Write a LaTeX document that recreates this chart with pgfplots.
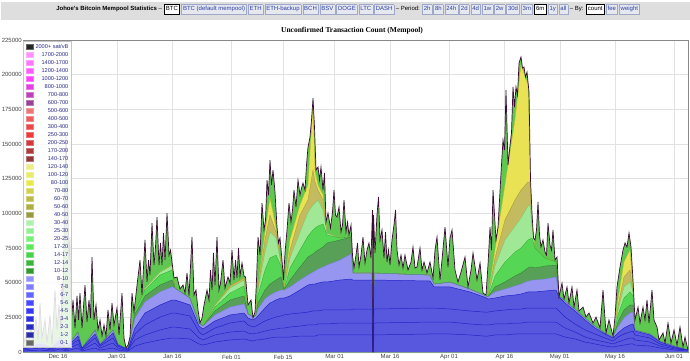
\documentclass[border=0pt]{standalone}
\usepackage{pgfplots}
\pgfplotsset{compat=1.18}
\usepackage{pgfplotstable}
\usepackage{fontspec}
\setmainfont{Liberation Sans}
\newfontfamily\titlefont{Liberation Serif}

\definecolor{headbg}{HTML}{DEDEDE}
\definecolor{btnbg}{HTML}{E6E8F0}
\definecolor{btnborder}{HTML}{A0A8C8}
\definecolor{btntext}{HTML}{2B3FA0}
\definecolor{legtext}{HTML}{2A2A8C}
\definecolor{tickgray}{HTML}{444444}
\definecolor{gridgray}{HTML}{E2E2E2}
\definecolor{axisgray}{HTML}{888888}

\definecolor{spikefill}{RGB}{95,200,80}
\definecolor{cY}{RGB}{233,226,85}
\definecolor{cYl}{RGB}{200,190,40}
\definecolor{cOL}{RGB}{196,186,95}
\definecolor{cOLl}{RGB}{160,150,60}
\definecolor{cLG}{RGB}{160,232,150}
\definecolor{cLGl}{RGB}{110,200,110}
\definecolor{cG}{RGB}{85,215,85}
\definecolor{cGl}{RGB}{40,170,40}
\definecolor{cDG}{RGB}{88,160,88}
\definecolor{cDGl}{RGB}{50,120,50}
\definecolor{cLB}{RGB}{150,150,240}
\definecolor{cLBl}{RGB}{125,125,235}
\definecolor{cB}{RGB}{88,88,222}
\definecolor{cBl}{RGB}{35,35,200}
\definecolor{cT}{RGB}{60,12,55}

\definecolor{lgA}{HTML}{000000}
\definecolor{lgB}{HTML}{FF80FF}
\definecolor{lgC}{HTML}{FF60FF}
\definecolor{lgD}{HTML}{FF40FF}
\definecolor{lgE}{HTML}{FF20FF}
\definecolor{lgF}{HTML}{DD22DD}
\definecolor{lgG}{HTML}{B022B0}
\definecolor{lgH}{HTML}{882288}
\definecolor{lgI}{HTML}{E86060}
\definecolor{lgJ}{HTML}{E84040}
\definecolor{lgK}{HTML}{E82828}
\definecolor{lgL}{HTML}{E81818}
\definecolor{lgM}{HTML}{C81818}
\definecolor{lgN}{HTML}{A01818}
\definecolor{lgO}{HTML}{801414}
\definecolor{lgP}{HTML}{EAEA70}
\definecolor{lgQ}{HTML}{E8E850}
\definecolor{lgR}{HTML}{E4E430}
\definecolor{lgS}{HTML}{CACA30}
\definecolor{lgT}{HTML}{B0B028}
\definecolor{lgU}{HTML}{A0A020}
\definecolor{lgV}{HTML}{888820}
\definecolor{lgW}{HTML}{A0EEA0}
\definecolor{lgX}{HTML}{80EE80}
\definecolor{lgY}{HTML}{60EE60}
\definecolor{lgZ}{HTML}{40E640}
\definecolor{lga}{HTML}{28CC28}
\definecolor{lgb}{HTML}{18AA18}
\definecolor{lgc}{HTML}{0C880C}
\definecolor{lgd}{HTML}{8080FF}
\definecolor{lge}{HTML}{6868FF}
\definecolor{lgf}{HTML}{4848FF}
\definecolor{lgg}{HTML}{2828FF}
\definecolor{lgh}{HTML}{1414F0}
\definecolor{lgi}{HTML}{0A0AD8}
\definecolor{lgj}{HTML}{0808B8}
\definecolor{lgk}{HTML}{0A0A98}
\definecolor{lgl}{HTML}{505050}

\pgfplotstableread{
d B1 B2 B3 B LB DG G LG OL Y
-9.49 700 1400 2200 2900 3600 3600 3600 3600 3600 3600
-4.88 1400 2900 4300 5800 7200 7200 7200 7200 7200 7200
-1.63 700 1400 2200 2900 2900 2900 2900 2900 2900 2900
0.54 2200 4300 6500 8700 10800 10800 10800 10800 10800 10800
2.17 700 1400 2200 2900 2900 2900 2900 2900 2900 2900
5.42 2900 5800 8700 11500 14400 14400 14400 14400 14400 14400
6.51 700 1400 2200 2900 2900 2900 2900 2900 2900 2900
10.03 2900 6500 10100 13000 15900 15900 15900 15900 15900 15900
11.39 1400 2900 4300 5000 5800 5800 5800 5800 5800 5800
14.91 2900 6500 10100 13700 15900 15900 15900 15900 15900 15900
16.26 1400 2900 4300 5000 5800 5800 5800 5800 5800 5800
18.16 700 1400 2200 2900 2900 2900 2900 2900 2900 2900
18.98 700 1400 1400 2200 2200 2200 2200 2200 2200 2200
20.87 4300 8700 13000 17300 24500 27400 30300 30300 30300 30300
23.58 6500 12300 19500 28100 36100 40400 44700 46100 46100 46100
27.65 8700 15900 25200 33900 43300 48300 55500 57700 57700 57700
30.90 10100 18000 28100 37500 46900 51900 59100 62700 62700 62700
31.72 10100 18000 28100 37500 46100 46100 46100 46100 46100 46100
35.78 9400 16600 26000 33900 38900 38900 38900 38900 38900 38900
38.22 5800 10100 14400 18700 20900 20900 20900 20900 20900 20900
39.31 5000 8700 12300 16600 18700 18700 18700 18700 18700 18700
42.56 7200 12300 17300 22400 26700 29600 32400 33900 33900 33900
46.63 8700 14400 20900 26700 32400 37500 42500 46100 47600 47600
50.42 9400 15100 22400 28100 34600 40400 47600 51900 53400 53400
51.51 8700 13700 19500 24500 27400 27400 27400 27400 27400 27400
52.86 7900 13000 18000 23100 25200 25200 25200 25200 25200 25200
53.67 8700 13700 18700 24500 26700 26700 26700 26700 26700 26700
54.22 8700 13700 19500 26000 31000 35300 41100 44700 46100 46900
56.11 9400 15100 22400 31700 38200 44700 59100 72100 80800 86500
57.47 10100 15900 23800 35300 41100 49000 67800 86500 98800 111000
59.10 10800 16600 25200 37500 43300 51900 69900 82200 86500 89400
60.45 10800 17300 26000 38900 44700 54100 62000 64200 64200 64200
61.26 10800 17300 26700 38900 44700 44700 44700 44700 44700 44700
62.89 10800 18000 27400 40400 46900 51900 60600 67800 73500 80800
65.60 11500 18700 28100 44700 51900 61300 73500 86500 98800 106000
67.77 11500 19500 28800 48300 55500 68500 83600 100900 109600 120400
69.13 11500 19500 29600 49000 57700 70700 88000 106000 131200 178100
69.67 11500 19500 29600 49000 58400 72100 89400 107400 122600 129800
70.48 12300 20200 29600 49700 59800 73500 90800 109600 116800 120400
71.84 12300 20200 30300 50500 61300 75700 92300 102400 109600 113200
72.92 12300 20200 30300 50500 62700 78600 84400 85800 85800 85800
76.45 12300 20900 30300 51900 66300 80800 82200 82200 82200 82200
79.43 12300 20900 30300 52600 70700 82900 82900 82900 82900 82900
79.97 12300 20900 31000 51900 57000 57000 57000 57000 57000 57000
85.12 12300 20900 31000 51900 57000 57000 57000 57000 57000 57000
85.39 0 0 0 0 0 0 0 0 0 0
85.66 12300 20900 31000 51900 57000 57000 57000 57000 57000 57000
100.84 13000 21600 31700 51200 55500 55500 55500 55500 55500 55500
101.93 13000 21600 31700 46900 49000 49000 49000 49000 49000 49000
106.26 13000 21600 31000 46900 50500 50500 50500 50500 50500 50500
111.68 12300 20200 29600 43300 45400 45400 45400 45400 45400 45400
115.48 11500 19500 28800 39700 41100 41100 41100 41100 41100 41100
116.56 11500 19500 28800 38200 39700 39700 39700 39700 39700 39700
118.46 12300 20200 29600 38900 43300 46900 54800 62000 67800 73500
121.17 12300 20200 30300 40400 45400 50500 64900 80800 95200 120400
123.88 13000 20900 31000 41100 47600 54800 72100 90800 109600 167300
125.51 13000 20900 31000 41800 49000 57000 75000 96600 116800 206900
127.41 13000 21600 31700 43300 51200 60600 80800 105300 122600 192500
127.95 13000 21600 31700 43300 51200 61300 81500 106000 122600 134800
128.49 13000 21600 31700 43300 51900 61300 82200 91600 91600 91600
129.31 13000 21600 31700 43300 51900 60600 75000 75000 75000 75000
132.02 13000 21600 31700 44000 52600 62000 67800 67800 67800 67800
135.00 13000 21600 31700 44700 54100 62700 64900 64900 64900 64900
135.81 12300 20200 29600 39700 40400 40400 40400 40400 40400 40400
137.43 10800 17300 25200 35300 36800 36800 36800 36800 36800 36800
140.15 9400 14400 20200 29600 31000 31000 31000 31000 31000 31000
142.86 7200 10800 15900 23100 24500 24500 24500 24500 24500 24500
145.57 5800 8700 13000 17300 18700 18700 18700 18700 18700 18700
148.28 4300 7200 10100 13000 13700 13700 13700 13700 13700 13700
150.45 3600 5800 7900 10100 10800 10800 10800 10800 10800 10800
151.80 4300 7200 10800 13700 18000 21600 26700 30300 33200 37500
153.43 5000 8700 13000 17300 24500 30300 38900 46900 54100 64900
155.06 5800 10100 14400 19500 28100 33900 43300 50500 59100 73500
155.87 5800 10100 15100 20200 28800 33900 40400 43300 43300 43300
156.41 5000 8700 12300 15100 15900 15900 15900 15900 15900 15900
160.47 4300 7200 10100 12300 13000 13000 13000 13000 13000 13000
163.19 2900 4300 5800 7200 7900 7900 7900 7900 7900 7900
167.25 1400 2200 2900 3600 4300 4300 4300 4300 4300 4300
170.78 700 1400 1400 1400 1400 1400 1400 1400 1400 1400
}\smoothtab

\pgfplotstableread{
d v
-9.49 5000
-8.67 12300
-8.13 5800
-7.32 19500
-6.78 7200
-5.96 24500
-5.42 8700
-4.88 35300
-4.34 10100
-3.52 23100
-2.98 6500
-2.17 26700
-1.63 5000
-0.81 44700
-0.27 15900
0.27 33900
0.81 15900
1.08 49700
1.36 37500
1.76 102400
2.17 156500
2.58 120400
2.98 66300
3.25 82900
3.66 23100
4.07 37500
4.61 17300
5.15 40400
5.56 23100
5.96 42500
6.51 17300
7.32 48300
7.86 21600
8.40 37500
8.81 24500
9.22 68500
9.76 23100
10.30 33900
10.84 15900
11.39 23100
11.93 11500
12.47 19500
13.01 11500
13.55 30300
14.10 15900
14.64 35300
15.18 19500
15.99 31700
16.54 12300
17.35 42500
17.89 10100
18.43 2900
18.98 5000
19.52 10800
20.06 42500
20.60 28800
21.42 48300
22.23 66300
22.77 41100
23.58 80800
24.13 50500
24.53 66300
24.94 55500
25.48 93000
26.02 62700
26.43 75700
26.84 97300
27.38 62700
27.79 78600
28.19 62700
28.60 85800
29.01 66300
29.55 100200
30.09 69900
30.50 73500
30.90 64900
31.45 53400
32.26 54100
33.07 45400
33.89 48300
34.43 42500
34.97 57000
35.51 40400
36.32 82900
36.87 41100
37.41 44700
37.95 30300
38.49 20900
39.04 24500
39.58 33900
40.39 44700
40.93 37500
41.34 59100
41.75 44700
42.15 71400
42.56 48300
43.10 82900
43.64 44700
44.05 49700
44.73 66300
45.27 46100
46.08 54100
46.63 49700
47.17 73500
47.71 51900
48.12 66300
48.52 53400
48.93 75000
49.34 54800
49.88 64200
50.42 54800
50.83 54100
51.51 33900
52.32 37500
52.86 24500
53.40 28800
53.81 51900
54.22 82900
54.76 69900
55.30 107400
55.84 88000
56.25 95200
56.66 124000
57.06 113200
57.47 138400
57.87 120400
58.28 131200
58.82 115400
59.37 90100
59.77 78600
60.18 82200
60.72 66300
61.13 51900
61.53 71400
62.08 88000
62.62 107400
63.16 93700
63.57 102400
63.97 116800
64.52 104500
65.06 124000
65.60 113200
66.01 118200
66.41 121800
66.96 116800
67.36 134800
67.77 147800
68.31 155000
68.72 167300
69.13 183100
69.53 162200
69.94 131200
70.48 133400
70.89 124000
71.29 133400
71.84 116800
72.24 129100
72.65 93700
73.19 100200
73.87 89400
74.41 100900
74.82 116800
75.22 98800
75.63 97300
76.17 104500
76.72 86500
77.12 91600
77.53 109600
78.07 86500
78.48 93700
78.88 84400
79.43 91600
79.83 69900
80.24 60600
80.78 69900
81.19 78600
81.60 61300
82.14 69900
82.68 82900
83.22 64200
83.76 73500
84.30 78600
84.85 67800
85.25 102400
85.39 0
85.53 98800
85.93 71400
86.47 98800
86.88 111800
87.29 80800
87.83 88000
88.37 67800
88.78 86500
89.19 64900
89.59 73500
90.00 62700
90.54 80800
91.08 91600
91.49 102400
91.90 73500
92.44 62700
92.98 69900
93.52 60600
94.06 69900
94.88 59100
95.69 64900
96.23 75700
96.78 60600
97.32 61300
98.13 75000
98.67 59100
99.22 64900
100.03 57000
100.84 64900
101.66 53400
102.20 73500
102.74 82900
103.55 51900
104.09 66300
104.91 90100
105.72 61300
106.26 82200
106.81 88000
107.62 59100
108.43 50500
109.25 57700
110.33 68500
111.14 46900
111.96 59100
112.50 71400
113.58 51900
114.40 64200
115.21 42500
116.02 41100
116.56 62700
117.11 90100
117.51 73500
117.92 116800
118.33 98800
118.73 80800
119.28 90100
120.09 129100
120.63 152900
121.04 145600
121.44 188900
121.99 134800
122.53 149200
122.93 157900
123.34 191100
123.75 176600
124.15 191100
124.56 185300
124.97 208400
125.51 212700
125.92 204800
126.32 205500
126.73 198300
127.14 201900
127.68 187500
128.09 124000
128.49 100200
128.90 82200
129.31 80800
129.71 88000
130.12 108200
130.53 84400
130.93 75700
131.47 80800
132.02 72100
132.42 69900
132.83 93000
133.37 77100
133.78 73500
134.18 88000
134.73 66300
135.27 68500
135.81 39700
136.62 49700
137.17 38200
137.98 46900
138.52 35300
139.33 46900
139.88 32400
140.69 44700
141.23 29600
142.32 32400
143.13 25200
143.94 28100
145.03 20900
145.84 25200
146.93 17300
147.74 44700
148.55 13700
149.36 23100
150.45 11500
150.99 25200
151.53 46900
152.35 61300
153.16 73500
153.70 78600
154.24 75700
154.79 85800
155.33 75700
155.87 51900
156.41 23100
157.23 32400
157.77 20900
158.58 32400
159.12 23100
159.67 37500
160.21 20900
161.02 44700
161.56 23100
162.38 18000
162.92 8700
164.00 13700
164.55 6500
165.36 20900
166.17 6500
166.99 15900
167.80 5000
168.61 18000
169.43 3600
169.97 10800
170.78 1400
}\tottab

\newcommand{\btn}[1]{{\setlength{\fboxsep}{1.3pt}\setlength{\fboxrule}{0.4pt}\fcolorbox{btnborder}{btnbg}{\textcolor{btntext}{\strut #1}}}}
\newcommand{\sbtn}[1]{{\setlength{\fboxsep}{1.3pt}\setlength{\fboxrule}{0.9pt}\fcolorbox{black}{white}{\strut #1}}}
\newcommand{\bs}{\hspace{1.2pt}}

\begin{document}
\begin{tikzpicture}
\useasboundingbox (0,0) rectangle (690pt,360pt);
\fill[white] (0,0) rectangle (690pt,360pt);
\fill[headbg] (0.5pt,340pt) rectangle (689.5pt,358.5pt);
\node[inner sep=0pt, font=\fontsize{6}{7}\selectfont] at (348pt,350.5pt)
 {\textbf{Johoe's Bitcoin Mempool Statistics} -- \sbtn{BTC}\bs\btn{BTC (default mempool)}\bs\btn{ETH}\bs\btn{ETH-backup}\bs\btn{BCH}\bs\btn{BSV}\bs\btn{DOGE}\bs\btn{LTC}\bs\btn{DASH} -- Period: \btn{2h}\bs\btn{8h}\bs\btn{24h}\bs\btn{2d}\bs\btn{4d}\bs\btn{1w}\bs\btn{2w}\bs\btn{30d}\bs\btn{3m}\bs\sbtn{6m}\bs\btn{1y}\bs\btn{all} -- By: \sbtn{count}\bs\btn{fee}\bs\btn{weight}};
\node[inner sep=0pt, font=\titlefont\bfseries\fontsize{7.5}{9}\selectfont] at (352pt,329pt) {Unconfirmed Transaction Count (Mempool)};
\begin{axis}[
  at={(23pt,8pt)}, anchor=south west,
  scale only axis, width=665pt, height=312pt,
  xmin=-9.49, xmax=170.78, ymin=0, ymax=225000,
  xtick={0,16,31,47,61,75,90,106,121,136,151,167},
  xticklabels={Dec 16,Jan 01,Jan 16,Feb 01,Feb 15,Mar 01,Mar 16,Apr 01,Apr 16,May 01,May 16,Jun 01},
  ytick={0,25000,50000,75000,100000,125000,150000,175000,200000,225000},
  scaled y ticks=false,
  /pgf/number format/assume math mode=true,
  /pgf/number format/fixed,
  /pgf/number format/set thousands separator={},
  tick label style={font=\fontsize{6}{7}\selectfont, text=tickgray, inner sep=1pt},
  xticklabel style={yshift=-1.5pt},
  major tick length=0pt,
  grid=major, grid style={gridgray, line width=0.4pt},
  axis line style={axisgray, line width=0.5pt},
  legend image code/.code={\draw[#1] (0pt,-2.6pt) rectangle (6.4pt,2.6pt);},
  legend cell align=right,
  legend style={at={(0,1)}, anchor=north west, yshift=-1.3pt,
    fill=white, fill opacity=0.85, draw opacity=1, text opacity=1,
    draw=gray!45, line width=0.4pt,
    font=\fontsize{5.6}{6}\selectfont, text=legtext,
    inner xsep=3pt, inner ysep=1.5pt, row sep=1.3pt, column sep=2.5pt,
    nodes={inner sep=0pt, text height=5.2pt, text depth=1.5pt}},
]
% fills (painter order)
\addplot[fill=spikefill, draw=none, forget plot] table[x=d,y=v] {\tottab} \closedcycle;
\addplot[fill=cY, draw=none, forget plot] table[x=d,y=Y] {\smoothtab} \closedcycle;
\addplot[fill=cOL, draw=none, forget plot] table[x=d,y=OL] {\smoothtab} \closedcycle;
\addplot[fill=cLG, draw=none, forget plot] table[x=d,y=LG] {\smoothtab} \closedcycle;
\addplot[fill=cG, draw=none, forget plot] table[x=d,y=G] {\smoothtab} \closedcycle;
\addplot[fill=cDG, draw=none, forget plot] table[x=d,y=DG] {\smoothtab} \closedcycle;
\addplot[fill=cLB, draw=none, forget plot] table[x=d,y=LB] {\smoothtab} \closedcycle;
\addplot[fill=cB, draw=none, forget plot] table[x=d,y=B] {\smoothtab} \closedcycle;
% boundary lines
\addplot[cYl, line width=0.3pt, forget plot] table[x=d,y=Y] {\smoothtab};
\addplot[cOLl, line width=0.3pt, forget plot] table[x=d,y=OL] {\smoothtab};
\addplot[cLGl, line width=0.3pt, forget plot] table[x=d,y=LG] {\smoothtab};
\addplot[cGl, line width=0.3pt, forget plot] table[x=d,y=G] {\smoothtab};
\addplot[cDGl, line width=0.3pt, forget plot] table[x=d,y=DG] {\smoothtab};
\addplot[cLBl, line width=0.3pt, forget plot] table[x=d,y=LB] {\smoothtab};
\addplot[cBl, line width=0.5pt, forget plot] table[x=d,y=B] {\smoothtab};
\addplot[cBl, line width=0.5pt, forget plot] table[x=d,y=B3] {\smoothtab};
\addplot[cBl, line width=0.5pt, forget plot] table[x=d,y=B2] {\smoothtab};
\addplot[cBl, line width=0.5pt, forget plot] table[x=d,y=B1] {\smoothtab};
\addplot[cT, line width=0.7pt, forget plot] table[x=d,y=v] {\tottab};
% legend
\addlegendimage{fill=lgA,draw=lgA!60!white}\addlegendentry{2000+ sat/vB}
\addlegendimage{fill=lgB,draw=lgB!60!white}\addlegendentry{1700-2000}
\addlegendimage{fill=lgC,draw=lgC!60!white}\addlegendentry{1400-1700}
\addlegendimage{fill=lgD,draw=lgD!60!white}\addlegendentry{1200-1400}
\addlegendimage{fill=lgE,draw=lgE!60!white}\addlegendentry{1000-1200}
\addlegendimage{fill=lgF,draw=lgF!60!white}\addlegendentry{800-1000}
\addlegendimage{fill=lgG,draw=lgG!60!white}\addlegendentry{700-800}
\addlegendimage{fill=lgH,draw=lgH!60!white}\addlegendentry{600-700}
\addlegendimage{fill=lgI,draw=lgI!60!white}\addlegendentry{500-600}
\addlegendimage{fill=lgJ,draw=lgJ!60!white}\addlegendentry{400-500}
\addlegendimage{fill=lgK,draw=lgK!60!white}\addlegendentry{300-400}
\addlegendimage{fill=lgL,draw=lgL!60!white}\addlegendentry{250-300}
\addlegendimage{fill=lgM,draw=lgM!60!white}\addlegendentry{200-250}
\addlegendimage{fill=lgN,draw=lgN!60!white}\addlegendentry{170-200}
\addlegendimage{fill=lgO,draw=lgO!60!white}\addlegendentry{140-170}
\addlegendimage{fill=lgP,draw=lgP!60!white}\addlegendentry{120-140}
\addlegendimage{fill=lgQ,draw=lgQ!60!white}\addlegendentry{100-120}
\addlegendimage{fill=lgR,draw=lgR!60!white}\addlegendentry{80-100}
\addlegendimage{fill=lgS,draw=lgS!60!white}\addlegendentry{70-80}
\addlegendimage{fill=lgT,draw=lgT!60!white}\addlegendentry{60-70}
\addlegendimage{fill=lgU,draw=lgU!60!white}\addlegendentry{50-60}
\addlegendimage{fill=lgV,draw=lgV!60!white}\addlegendentry{40-50}
\addlegendimage{fill=lgW,draw=lgW!60!white}\addlegendentry{30-40}
\addlegendimage{fill=lgX,draw=lgX!60!white}\addlegendentry{25-30}
\addlegendimage{fill=lgY,draw=lgY!60!white}\addlegendentry{20-25}
\addlegendimage{fill=lgZ,draw=lgZ!60!white}\addlegendentry{17-20}
\addlegendimage{fill=lga,draw=lga!60!white}\addlegendentry{14-17}
\addlegendimage{fill=lgb,draw=lgb!60!white}\addlegendentry{12-14}
\addlegendimage{fill=lgc,draw=lgc!60!white}\addlegendentry{10-12}
\addlegendimage{fill=lgd,draw=lgd!60!white}\addlegendentry{8-10}
\addlegendimage{fill=lge,draw=lge!60!white}\addlegendentry{7-8}
\addlegendimage{fill=lgf,draw=lgf!60!white}\addlegendentry{6-7}
\addlegendimage{fill=lgg,draw=lgg!60!white}\addlegendentry{5-6}
\addlegendimage{fill=lgh,draw=lgh!60!white}\addlegendentry{4-5}
\addlegendimage{fill=lgi,draw=lgi!60!white}\addlegendentry{3-4}
\addlegendimage{fill=lgj,draw=lgj!60!white}\addlegendentry{2-3}
\addlegendimage{fill=lgk,draw=lgk!60!white}\addlegendentry{1-2}
\addlegendimage{fill=lgl,draw=lgl!60!white}\addlegendentry{0-1}
\end{axis}
\end{tikzpicture}
\end{document}
